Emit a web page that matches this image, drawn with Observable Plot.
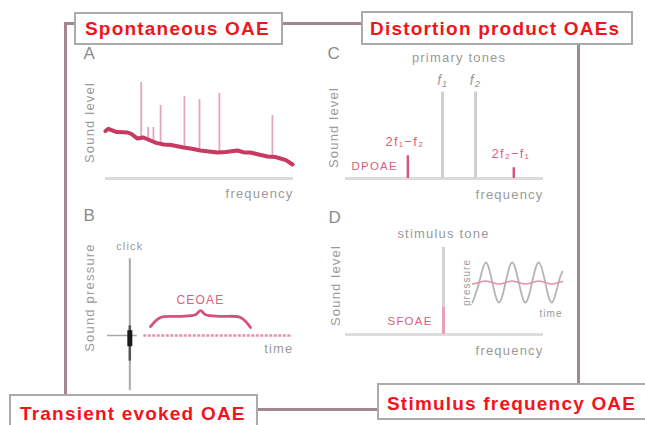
<!DOCTYPE html>
<html><head><meta charset="utf-8">
<script src="https://cdn.jsdelivr.net/npm/d3@7"></script>
<script src="https://cdn.jsdelivr.net/npm/@observablehq/plot@0.6"></script>
<style>
html,body{margin:0;padding:0;background:#fff;}
#root{position:relative;width:645px;height:425px;overflow:hidden;font-family:"Liberation Sans",Arial,sans-serif;}
.panel{position:absolute;}
.panel svg{display:block;}
.frame{position:absolute;left:64px;top:22px;width:510px;height:383px;border:3px solid #a4868e;}
.tag{position:absolute;background:#fff;border:2px solid #ababab;box-sizing:border-box;}
.tagtext{position:absolute;white-space:nowrap;color:#f2141c;font-weight:bold;font-size:19px;letter-spacing:1.2px;line-height:19px;}
</style>
</head><body>
<div id="root">
  <div class="frame"></div>
</div>
<script>
// ---------- data ----------
// Panel A: spontaneous OAE spectrum
const floorFreq  = [0, 1.5, 6, 11.7, 14, 17, 20, 23.9, 27, 30.9, 35, 41.5, 46, 50.5, 55, 59.6, 64, 70.2, 74, 77.1, 82, 86.2, 90, 93.1, 96, 99.5];
const floorLevel = [44, 46, 43, 42.6, 41, 37, 38, 35.2, 33, 31.5, 31, 28.7, 27.5, 25.9, 25, 24.1, 24.5, 25.9, 24, 24.1, 22, 20.4, 20, 18.5, 17, 13];
const peakFreq   = [19.0, 22.7, 25.5, 29.3, 42.0, 50.0, 60.6, 88.8];
const peakLevel  = [88.9, 47.2, 47.2, 67.6, 75.9, 73.1, 78.7, 58.3];

// Panel C: distortion products
const toneLabels = ["f₁", "f₂"];
const toneFreq   = [49, 65.7];
const toneLevel  = [80, 80];
const dpLabels   = ["2f₁−f₂", "2f₂−f₁"];
const dpFreq     = [31.5, 85];
const dpLevel    = [21, 10];

// Panel B: click-evoked OAE
const clickTime     = 12;
const clickRange    = [-0.69, 0.96];
const clickCore     = [-0.14, 0.06];
const clickDark     = [-0.32, 0.12];
const ceoaeSpan     = [19.5, 99.5];
const braceT = [23.1, 28.5, 38.7, 47.3, 50, 52.7, 61.3, 71.5, 76.9];
const braceP = [0.11, 0.225, 0.24, 0.26, 0.31, 0.26, 0.24, 0.225, 0.10];

// Panel D: stimulus frequency OAE
const stimFreq   = 49.5;
const stimLevel  = 92.6;
const sfoaeLevel = 28.7;
const waveT      = [0, 0.25, 0.5, 0.75, 1, 1.25, 1.5, 1.75, 2, 2.25, 2.5, 2.75, 3, 3.25, 3.4];
const waveP      = [-1, 0, 1, 0, -1, 0, 1, 0, -1, 0, 1, 0, -1, 0, 0.55];
const emisP      = [-0.08, 0, 0.08, 0, -0.08, 0, 0.08, 0, -0.08, 0, 0.08, 0, -0.08, 0, 0.05];

// Labels
const tagLabels = ["Spontaneous OAE", "Distortion product OAEs", "Transient evoked OAE", "Stimulus frequency OAE"];

// ---------- build ----------
const floor = floorFreq.map((f, i) => ({freq: f, level: floorLevel[i]}));
const floorAt = d3.scaleLinear().domain(floorFreq).range(floorLevel);
const peaks = peakFreq.map((f, i) => ({freq: f, level: peakLevel[i], base: floorAt(f)}));
const tones = toneFreq.map((f, i) => ({label: toneLabels[i], freq: f, level: toneLevel[i]}));
const dps = dpFreq.map((f, i) => ({label: dpLabels[i], freq: f, level: dpLevel[i]}));
const brace = braceT.map((t, i) => ({t, p: braceP[i]}));
const wave = waveT.map((t, i) => ({t, p: waveP[i], e: emisP[i]}));

const GRAY = "#9a9a9a", PINK = "#d9607f", AXIS = "#dcdcdc";
const FONT = "'Liberation Sans', Arial, sans-serif";
const baseStyle = {background: "transparent", overflow: "visible", fontFamily: FONT, letterSpacing: "1.2px"};
const root = document.getElementById("root");
function place(svg, left, top) {
  const d = document.createElement("div");
  d.className = "panel"; d.style.left = left + "px"; d.style.top = top + "px";
  d.appendChild(svg); root.appendChild(d);
}
const T = (s, o) => Plot.text([s], {text: d => d, fill: GRAY, fontSize: 13, ...o});

// Panel A
place(Plot.plot({
  width: 240, height: 170, marginLeft: 35, marginRight: 17, marginTop: 30, marginBottom: 32,
  x: {domain: [0, 100], axis: null}, y: {domain: [0, 100], axis: null}, style: baseStyle,
  marks: [
    Plot.ruleY([0], {stroke: AXIS, strokeWidth: 3}),
    Plot.ruleX(peaks, {x: "freq", y1: "base", y2: "level", stroke: "#e4a6b8", strokeWidth: 1.8}),
    Plot.line(floor, {x: "freq", y: "level", stroke: "#c93a62", strokeWidth: 4}),
    T("frequency", {frameAnchor: "bottom-right", lineAnchor: "middle", dy: 15}),
    T("Sound level", {frameAnchor: "left", rotate: -90, textAnchor: "middle", lineAnchor: "middle", dx: -16, dy: -2}),
    T("A", {frameAnchor: "top-left", textAnchor: "start", lineAnchor: "middle", dx: -22, dy: -17, fontSize: 17, fill: "#8c8c8c"})
  ]
}), 70, 40);

// Panel C
place(Plot.plot({
  width: 240, height: 170, marginLeft: 27, marginRight: 15, marginTop: 30, marginBottom: 32,
  x: {domain: [0, 100], axis: null}, y: {domain: [0, 100], axis: null}, style: baseStyle,
  marks: [
    Plot.ruleY([0], {stroke: AXIS, strokeWidth: 3}),
    Plot.ruleX(tones, {x: "freq", y1: 0, y2: "level", stroke: "#cfcfcf", strokeWidth: 3}),
    Plot.ruleX(dps, {x: "freq", y1: 0, y2: "level", stroke: "#d6577d", strokeWidth: 2.5}),
    Plot.text(tones, {x: "freq", y: "level", text: "label", dy: -12, fill: GRAY, fontSize: 14, fontStyle: "italic"}),
    Plot.text(dps, {x: "freq", y: "level", text: "label", dy: -14, dx: -3, fill: PINK, fontSize: 13}),
    T("primary tones", {x: () => d3.mean(toneFreq), frameAnchor: "top", lineAnchor: "middle", dy: -13}),
    T("DPOAE", {x: () => dpFreq[0], y: () => 11, textAnchor: "end", dx: -10, fill: PINK, fontSize: 11.5}),
    T("frequency", {frameAnchor: "bottom-right", lineAnchor: "middle", dy: 16}),
    T("Sound level", {frameAnchor: "left", rotate: -90, textAnchor: "middle", lineAnchor: "middle", dx: -12, dy: 3}),
    T("C", {frameAnchor: "top-left", textAnchor: "start", lineAnchor: "middle", dx: -18, dy: -17, fontSize: 17, fill: "#8c8c8c"})
  ]
}), 318, 40);

// Panel B
place(Plot.plot({
  width: 240, height: 225, marginLeft: 37, marginRight: 17, marginTop: 55, marginBottom: 10,
  x: {domain: [0, 100], axis: null}, y: {domain: [-1, 1], axis: null}, style: baseStyle,
  marks: [
    Plot.ruleY([0], {x1: 0, x2: 16, stroke: "#a8a8a8", strokeWidth: 1.5}),
    Plot.ruleY([0], {x1: ceoaeSpan[0], x2: ceoaeSpan[1], stroke: "#e690aa", strokeWidth: 2.5, strokeDasharray: "3,1.5"}),
    Plot.ruleX([clickTime], {y1: clickRange[0], y2: clickRange[1], stroke: "#a9a9a9", strokeWidth: 2}),
    Plot.ruleX([clickTime], {y1: clickDark[0], y2: clickDark[1], stroke: "#555", strokeWidth: 2.5}),
    Plot.ruleX([clickTime], {y1: clickCore[0], y2: clickCore[1], stroke: "#1a1a1a", strokeWidth: 5}),
    Plot.line(brace, {x: "t", y: "p", curve: "catmull-rom", stroke: "#d3527a", strokeWidth: 2.8}),
    T("CEOAE", {x: () => d3.mean(braceT), y: () => d3.max(braceP), dy: -11, fill: PINK, fontSize: 12}),
    T("click", {x: () => clickTime, y: () => clickRange[1], dy: -12, fontSize: 11}),
    T("time", {x: () => 100, y: () => 0, textAnchor: "end", lineAnchor: "middle", dy: 13}),
    T("Sound pressure", {frameAnchor: "left", rotate: -90, textAnchor: "middle", lineAnchor: "middle", dx: -18, dy: -38}),
    T("B", {frameAnchor: "top-left", textAnchor: "start", lineAnchor: "middle", dx: -24, dy: -40, fontSize: 17, fill: "#8c8c8c"})
  ]
}), 70, 200);

// Panel D
place(Plot.plot({
  width: 240, height: 170, marginLeft: 27, marginRight: 15, marginTop: 40, marginBottom: 36,
  x: {domain: [0, 100], axis: null}, y: {domain: [0, 100], axis: null}, style: baseStyle,
  marks: [
    Plot.ruleY([0], {stroke: AXIS, strokeWidth: 3}),
    Plot.ruleX([stimFreq], {y1: 0, y2: stimLevel, stroke: "#d3d3d3", strokeWidth: 3}),
    Plot.ruleX([stimFreq], {y1: 0, y2: sfoaeLevel, stroke: "#e8a2b7", strokeWidth: 3}),
    T("stimulus tone", {x: () => stimFreq, y: () => stimLevel, dy: -14}),
    T("SFOAE", {x: () => stimFreq, y: () => sfoaeLevel / 2, textAnchor: "end", dx: -11, fill: PINK, fontSize: 11.5}),
    T("frequency", {frameAnchor: "bottom-right", lineAnchor: "middle", dy: 16}),
    T("Sound level", {frameAnchor: "left", rotate: -90, textAnchor: "middle", lineAnchor: "middle", dx: -10, dy: -2}),
    T("D", {frameAnchor: "top-left", textAnchor: "start", lineAnchor: "middle", dx: -17, dy: -23, fontSize: 17, fill: "#8c8c8c"})
  ]
}), 318, 200);

// Panel D inset waveform
place(Plot.plot({
  width: 115, height: 70, marginLeft: 17, marginRight: 8, marginTop: 12, marginBottom: 18,
  x: {domain: [0, 3.4], axis: null}, y: {domain: [-1, 1], axis: null},
  style: {...baseStyle, letterSpacing: "1px"},
  marks: [
    Plot.line(wave, {x: "t", y: "p", curve: "natural", stroke: "#b5b5b5", strokeWidth: 1.8}),
    Plot.line(wave, {x: "t", y: "e", curve: "natural", stroke: "#e592a9", strokeWidth: 1.5}),
    T("pressure", {frameAnchor: "left", rotate: -90, textAnchor: "middle", lineAnchor: "middle", dx: -6, fontSize: 10}),
    T("time", {frameAnchor: "bottom-right", textAnchor: "end", lineAnchor: "middle", dy: 11, fontSize: 10})
  ]
}), 455, 250);

// Label boxes
const tagBoxes = [[74, 12, 209, 33], [361, 11, 272, 34], [9, 394, 249, 40], [377, 383, 280, 37]];
const tagText  = [[85, 18.7], [370, 19], [20, 403.5], [387, 394]];
tagLabels.forEach((s, i) => {
  const b = document.createElement("div");
  b.className = "tag";
  const [l, t, w, h] = tagBoxes[i];
  Object.assign(b.style, {left: l + "px", top: t + "px", width: w + "px", height: h + "px"});
  root.appendChild(b);
  const sp = document.createElement("div");
  sp.className = "tagtext";
  sp.textContent = s;
  sp.style.left = tagText[i][0] + "px"; sp.style.top = tagText[i][1] + "px";
  root.appendChild(sp);
});
</script>
</body></html>
